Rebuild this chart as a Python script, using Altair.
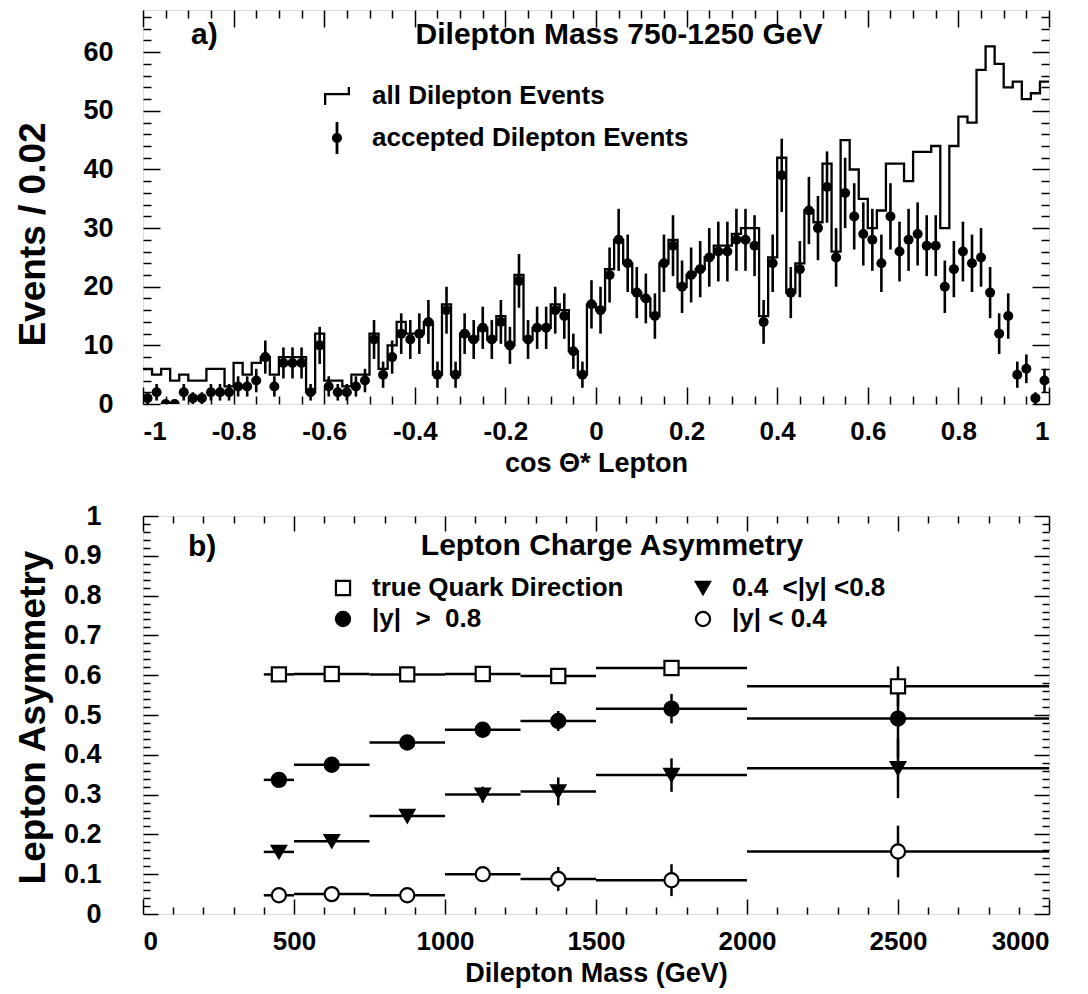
import altair as alt
import numpy as np
import pandas as pd

FONT = "Liberation Sans"

# ---------------- panel a) : cos theta* histogram ----------------
cos_lo, cos_hi, cos_bin = -1.0, 1.0, 0.02
all_events = [6, 5, 6, 4, 5, 4, 4, 6, 6, 3,
              7, 5, 7, 8, 5, 8, 8, 8, 2, 12,
              4, 4, 3, 5, 5, 12, 6, 10, 14, 12,
              12, 14, 5, 17, 5, 12, 11, 13, 11, 15,
              10, 22, 11, 13, 13, 17, 16, 9, 5, 17,
              16, 23, 28, 24, 19, 18, 15, 24, 28, 20,
              22, 23, 25, 27, 27, 29, 30, 30, 15, 25,
              42, 19, 24, 33, 31, 41, 26, 45, 40, 35,
              30, 33, 41, 41, 38, 43, 43, 44, 30, 44,
              49, 48, 57, 61, 58, 54, 55, 52, 53, 55]
accepted_events = [1, 2, 0, 0, 2, 1, 1, 2, 2, 2,
                   3, 3, 4, 8, 3, 7, 7, 7, 2, 10,
                   3, 2, 2, 3, 4, 11, 5, 8, 12, 11,
                   12, 14, 5, 16, 5, 12, 11, 13, 11, 14,
                   10, 21, 11, 13, 13, 16, 15, 9, 5, 17,
                   16, 22, 28, 24, 19, 18, 15, 24, 27, 20,
                   22, 23, 25, 26, 26, 28, 28, 27, 14, 24,
                   39, 19, 23, 33, 30, 37, 25, 36, 32, 29,
                   28, 24, 32, 26, 28, 29, 27, 27, 20, 23,
                   26, 24, 25, 19, 12, 15, 5, 6, 1, 4]
legend_a = ["all Dilepton Events", "accepted Dilepton Events"]

# ---------------- panel b) : lepton charge asymmetry ----------------
mass_lo = [400, 500, 750, 1000, 1250, 1500, 2000]
mass_hi = [500, 750, 1000, 1250, 1500, 2000, 3000]
mass_mid = [450, 625, 875, 1125, 1375, 1750, 2500]
asym_true = [0.602, 0.603, 0.602, 0.603, 0.598, 0.618, 0.572]
err_true = [0.006, 0.006, 0.006, 0.006, 0.006, 0.012, 0.05]
asym_fwd = [0.337, 0.375, 0.431, 0.463, 0.485, 0.516, 0.491]
err_fwd = [0.008, 0.010, 0.012, 0.015, 0.025, 0.037, 0.10]
asym_mid = [0.156, 0.183, 0.246, 0.300, 0.308, 0.349, 0.366]
err_mid = [0.010, 0.012, 0.015, 0.020, 0.035, 0.042, 0.075]
asym_cen = [0.047, 0.050, 0.047, 0.100, 0.088, 0.085, 0.157]
err_cen = [0.010, 0.012, 0.015, 0.018, 0.030, 0.040, 0.065]
# legend order (filled column by column): col 1 = first two, col 2 = last two
series_b = ["true Quark Direction",
            "|y|\u00a0\u00a0>\u00a0\u00a00.8",
            "0.4\u00a0\u00a0<|y|\u00a0<0.8",
            "|y|\u00a0<\u00a00.4"]
shapes_b = ["square", "circle", "triangle-down", "circle"]
fills_b = ["white", "black", "black", "white"]

# ---------------- tick values ----------------
x_major_a = [-1, -0.8, -0.6, -0.4, -0.2, 0, 0.2, 0.4, 0.6, 0.8, 1]
x_all_a = [round(-1 + 0.05 * i, 2) for i in range(41)]
y_major_a = [0, 10, 20, 30, 40, 50, 60]
y_all_a = list(range(0, 68, 2))
x_major_b = [0, 500, 1000, 1500, 2000, 2500, 3000]
x_all_b = list(range(0, 3001, 100))
y_major_b = [0, 0.1, 0.2, 0.3, 0.4, 0.5, 0.6, 0.7, 0.8, 0.9, 1]
y_all_b = [round(0.02 * i, 2) for i in range(51)]

# ---------------- layout constants ----------------
W = 906
HA = 394
HB = 398
YMAX_A = 67.2

# ---------------- tables ----------------
edges = np.round(cos_lo + cos_bin * np.arange(len(all_events) + 1), 2)
df_hist = pd.DataFrame({"edge": edges, "count": all_events + [all_events[-1]]})
acc = np.array(accepted_events, dtype=float)
df_acc = pd.DataFrame({
    "center": np.round(edges[:-1] + cos_bin / 2, 3),
    "n": acc,
    "lo": acc - np.sqrt(acc),
    "hi": acc + np.sqrt(acc),
})
df_leg_a = pd.DataFrame({"entry": legend_a})

rows = []
for name, vals, errs in zip(series_b,
                            [asym_true, asym_fwd, asym_mid, asym_cen],
                            [err_true, err_fwd, err_mid, err_cen]):
    for lo, hi, mid, v, e in zip(mass_lo, mass_hi, mass_mid, vals, errs):
        rows.append({"series": name, "mlo": lo, "mhi": hi, "m": mid,
                     "a": v, "alo": v - e, "ahi": v + e})
df_b = pd.DataFrame(rows)

# ---------------- helpers ----------------
def label_axis(orient, values, title, pad, lsize=26, **kw):
    return alt.Axis(orient=orient, values=values, labelExpr="'' + datum.value",
                    ticks=False, tickSize=0, domain=False, grid=False,
                    labelPadding=pad, labelFontSize=lsize, labelFont=FONT,
                    labelFontWeight="bold", labelColor="black",
                    title=title, titleFont=FONT, titleFontWeight="bold",
                    titleColor="black", **kw)


def tick_axis(orient, offset, values, test, big):
    return alt.Axis(orient=orient, offset=offset, values=values, labels=False,
                    domain=False, grid=False, title=None, ticks=True,
                    tickSize=big, tickColor="black", tickWidth=1.5,
                    tickDash={"condition": {"test": test, "value": [40, 0]},
                              "value": [big / 2 - 0.5, 60]})


TEST_XA = "abs(datum.value*5 - round(datum.value*5)) < 0.001"
TEST_YA = "abs(datum.value/10 - round(datum.value/10)) < 0.001"
TEST_XB = "abs(datum.value/500 - round(datum.value/500)) < 0.001"
TEST_YB = "abs(datum.value*10 - round(datum.value*10)) < 0.001"

# ---------------- panel a ----------------
def xs_a():
    return alt.Scale(domain=[cos_lo, cos_hi], nice=False, zero=False)


def ys_a():
    return alt.Scale(domain=[0, YMAX_A], nice=False, zero=False)


hist = alt.Chart(df_hist).mark_line(
    interpolate="step-after", color="black", strokeWidth=2.3, clip=True
).encode(
    x=alt.X("edge:Q", scale=xs_a(),
            axis=label_axis("bottom", x_major_a, "cos \u0398* Lepton", 14,
                            titleFontSize=27, titlePadding=6)),
    y=alt.Y("count:Q", scale=ys_a(),
            axis=label_axis("left", y_major_a, "Events / 0.02", 30, lsize=27,
                            titleFontSize=37, titleX=-99, titleY=224,
                            titleBaseline="alphabetic", titleAngle=270)),
)

err_a = alt.Chart(df_acc).mark_rule(color="black", strokeWidth=2.6, clip=True).encode(
    x=alt.X("center:Q", scale=xs_a(), axis=tick_axis("top", -HA, x_all_a, TEST_XA, 17)),
    y=alt.Y("lo:Q", scale=ys_a(), axis=tick_axis("right", -W, y_all_a, TEST_YA, 17)),
    y2="hi:Q",
)

pts_a = alt.Chart(df_acc).mark_circle(color="black", size=100, opacity=1, clip=True).encode(
    x=alt.X("center:Q", scale=xs_a(), axis=tick_axis("bottom", -HA, x_all_a, TEST_XA, 17)),
    y=alt.Y("n:Q", scale=ys_a(), axis=tick_axis("left", -W, y_all_a, TEST_YA, 17)),
)

STEP_GLYPH = ("M-1.3,-0.3 L1.3,-0.3 L1.3,-0.07 L-1.3,-0.07 Z "
              "M-1.3,-0.3 L-1.07,-0.3 L-1.07,0.9 L-1.3,0.9 Z "
              "M1.07,-0.9 L1.3,-0.9 L1.3,-0.07 L1.07,-0.07 Z")
POINT_GLYPH = ("M0,-0.5 A0.5,0.5 0 1,1 0,0.5 A0.5,0.5 0 1,1 0,-0.5 Z "
               "M-0.14,-1.6 L0.14,-1.6 L0.14,1.6 L-0.14,1.6 Z")

leg_a = alt.Chart(df_leg_a).mark_point(filled=True, color="black", opacity=0).encode(
    shape=alt.Shape("entry:N",
                    scale=alt.Scale(domain=legend_a, range=[STEP_GLYPH, POINT_GLYPH]),
                    legend=alt.Legend(orient="none", legendX=181, legendY=73,
                                      title=None, padding=0, symbolSize=400,
                                      symbolOpacity=1, symbolFillColor="black",
                                      symbolStrokeWidth=0, labelFont=FONT,
                                      labelFontSize=26, labelFontWeight="bold",
                                      labelColor="black", labelOffset=22,
                                      rowPadding=13, labelLimit=600)),
)

txt_a_label = alt.Chart(pd.DataFrame({"t": ["a)"]})).mark_text(
    font=FONT, fontSize=30, fontWeight="bold", color="black", align="left", baseline="middle"
).encode(x=alt.value(48), y=alt.value(25), text="t:N")

txt_a_title = alt.Chart(pd.DataFrame({"t": ["Dilepton Mass 750-1250 GeV"]})).mark_text(
    font=FONT, fontSize=30, fontWeight="bold", color="black", align="center", baseline="middle"
).encode(x=alt.value(476), y=alt.value(25), text="t:N")

panel_a = alt.layer(hist, err_a, pts_a, leg_a, txt_a_label, txt_a_title).resolve_scale(
    x="independent", y="independent"
).properties(width=W, height=HA)

# ---------------- panel b ----------------
def xs_b():
    return alt.Scale(domain=[0, 3000], nice=False, zero=False)


def ys_b():
    return alt.Scale(domain=[0, 1], nice=False, zero=False)


def legend_b():
    return alt.Legend(orient="none", legendX=187, legendY=59, columns=2,
                      title=None, padding=0, symbolSize=200,
                      symbolOpacity=1, symbolStrokeColor="black",
                      symbolStrokeWidth=2.2, labelFont=FONT,
                      labelFontSize=26, labelFontWeight="bold",
                      labelColor="black", labelOffset=16,
                      rowPadding=5, columnPadding=66, labelLimit=600)


hbars = alt.Chart(df_b).mark_rule(color="black", strokeWidth=2.5, clip=True).encode(
    x=alt.X("mlo:Q", scale=xs_b(),
            axis=label_axis("bottom", x_major_b, "Dilepton Mass (GeV)", 14,
                            titleFontSize=27, titlePadding=6)),
    x2="mhi:Q",
    y=alt.Y("a:Q", scale=ys_b(),
            axis=label_axis("left", y_major_b, "Lepton Asymmetry", 42, lsize=27,
                            titleFontSize=37, titleX=-99, titleY=201,
                            titleBaseline="alphabetic", titleAngle=270)),
)

vbars = alt.Chart(df_b).mark_rule(color="black", strokeWidth=2.5, clip=True).encode(
    x=alt.X("m:Q", scale=xs_b(), axis=tick_axis("top", -HB, x_all_b, TEST_XB, 15)),
    y=alt.Y("alo:Q", scale=ys_b(), axis=tick_axis("right", -W, y_all_b, TEST_YB, 15)),
    y2="ahi:Q",
)

pts_b = alt.Chart(df_b).mark_point(
    color="black", strokeWidth=2.2, size=200, opacity=1
).encode(
    x=alt.X("m:Q", scale=xs_b(), axis=tick_axis("bottom", -HB, x_all_b, TEST_XB, 15)),
    y=alt.Y("a:Q", scale=ys_b(), axis=tick_axis("left", -W, y_all_b, TEST_YB, 15)),
    shape=alt.Shape("series:N", scale=alt.Scale(domain=series_b, range=shapes_b),
                    legend=legend_b()),
    fill=alt.Fill("series:N", scale=alt.Scale(domain=series_b, range=fills_b),
                  legend=legend_b()),
    stroke=alt.Stroke("series:N", scale=alt.Scale(domain=series_b, range=["black"] * 4),
                      legend=legend_b()),
)

txt_b_label = alt.Chart(pd.DataFrame({"t": ["b)"]})).mark_text(
    font=FONT, fontSize=30, fontWeight="bold", color="black", align="left", baseline="middle"
).encode(x=alt.value(45), y=alt.value(31), text="t:N")

txt_b_title = alt.Chart(pd.DataFrame({"t": ["Lepton Charge Asymmetry"]})).mark_text(
    font=FONT, fontSize=30, fontWeight="bold", color="black", align="center", baseline="middle"
).encode(x=alt.value(469), y=alt.value(30), text="t:N")

panel_b = alt.layer(hbars, vbars, pts_b, txt_b_label, txt_b_title).resolve_scale(
    x="independent", y="independent"
).properties(width=W, height=HB)

chart = alt.vconcat(panel_a, panel_b, spacing=24).resolve_scale(
    shape="independent", fill="independent", color="independent", stroke="independent"
).properties(
    padding={"left": 5, "top": 0, "right": 5, "bottom": 5}
).configure_view(
    stroke="black", strokeWidth=2
).configure(background="white")

chart.save("out.html", embed_options={"renderer": "svg", "actions": False})
